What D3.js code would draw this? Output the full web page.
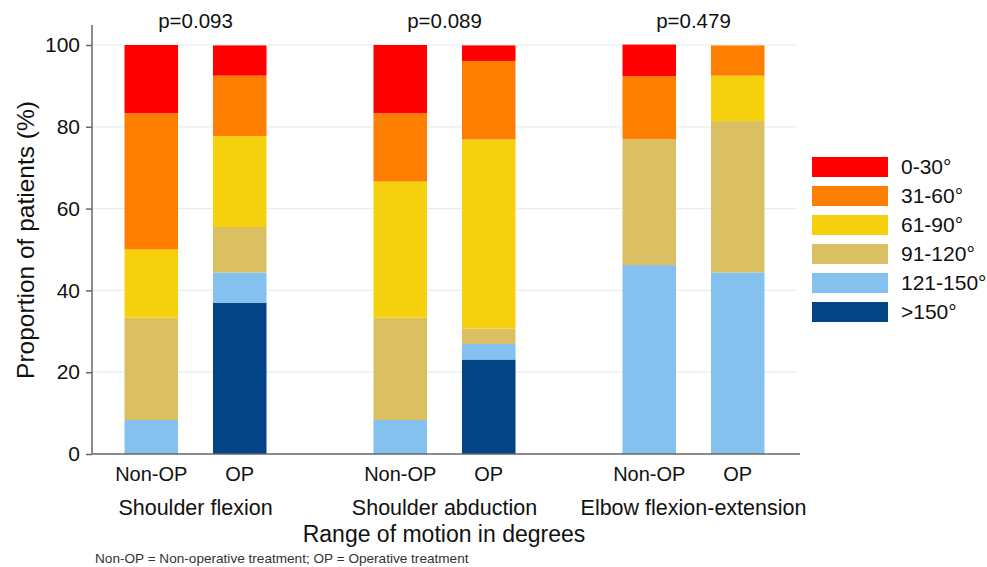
<!DOCTYPE html>
<html>
<head>
<meta charset="utf-8">
<script src="https://cdn.jsdelivr.net/npm/d3@7"></script>
<style>
  html, body { margin: 0; padding: 0; background: #fff; }
  svg { display: block; font-family: "Liberation Sans", Arial, sans-serif; }
</style>
</head>
<body>
<svg id="chart" width="987" height="567"></svg>
<script>
// ---- Data ----
const groups = ["Shoulder flexion", "Shoulder abduction", "Elbow flexion-extension"];
const treatments = ["Non-OP", "OP"];
const pValues = ["p=0.093", "p=0.089", "p=0.479"];
// stack order: bottom to top
const categories = [">150°", "121-150°", "91-120°", "61-90°", "31-60°", "0-30°"];
const colors = ["#024485", "#85C1EE", "#DBC063", "#F6D20E", "#FE7E00", "#FF0000"];

const shoulderFlexionNonOP  = [0, 8.3, 25.0, 16.7, 33.3, 16.7];
const shoulderFlexionOP     = [37.0, 7.4, 11.1, 22.2, 14.8, 7.4];
const shoulderAbductionNonOP = [0, 8.3, 25.0, 33.3, 16.7, 16.7];
const shoulderAbductionOP   = [23.1, 3.8, 3.8, 46.2, 19.2, 3.8];
const elbowNonOP            = [0, 46.2, 30.8, 0, 15.4, 7.7];
const elbowOP               = [0, 44.4, 37.0, 11.1, 7.4, 0];

const yTicks = [0, 20, 40, 60, 80, 100];

// ---- Table built from arrays ----
const seriesByBar = [
  [shoulderFlexionNonOP, shoulderFlexionOP],
  [shoulderAbductionNonOP, shoulderAbductionOP],
  [elbowNonOP, elbowOP]
];
const rows = [];
groups.forEach((g, gi) => {
  treatments.forEach((t, ti) => {
    const row = { group: g, treatment: t };
    categories.forEach((c, ci) => { row[c] = seriesByBar[gi][ti][ci]; });
    rows.push(row);
  });
});

// ---- Layout ----
const svg = d3.select("#chart");
const mLeft = 92, mRight = 797, mTop = 45, mBottom = 454;

const x0 = d3.scalePoint().domain(groups).range([mLeft, mRight]).padding(0.4157);
const x1 = d3.scaleBand().domain(treatments).range([-71, 71]).paddingInner(0.395).paddingOuter(0);
const y = d3.scaleLinear().domain([0, 100]).range([mBottom, mTop]);
const color = d3.scaleOrdinal().domain(categories).range(colors);

// gridlines
svg.append("g").selectAll("line").data(yTicks.filter(d => d > 0)).join("line")
  .attr("x1", mLeft).attr("x2", mRight)
  .attr("y1", d => y(d)).attr("y2", d => y(d))
  .attr("stroke", "#E6EDF4").attr("stroke-width", 1.2);

// stacked bars
const stack = d3.stack().keys(categories);
const stacked = stack(rows);
svg.append("g").selectAll("g").data(stacked).join("g")
  .attr("fill", d => color(d.key))
  .selectAll("rect").data(d => d).join("rect")
  .attr("x", d => x0(d.data.group) + x1(d.data.treatment))
  .attr("width", x1.bandwidth())
  .attr("y", d => y(d[1]))
  .attr("height", d => Math.max(0, y(d[0]) - y(d[1])));

// y axis
const yAxis = d3.axisLeft(y).tickValues(yTicks).tickSize(6).tickPadding(6);
const gy = svg.append("g").attr("transform", `translate(${mLeft},0)`).call(yAxis);
gy.select(".domain").remove();
gy.selectAll(".tick line").attr("stroke", "#666").attr("stroke-width", 1.5);
gy.selectAll(".tick text").attr("font-size", 21).attr("fill", "#111")
  .attr("font-family", "Liberation Sans, Arial, sans-serif");
svg.append("line").attr("x1", mLeft).attr("x2", mLeft).attr("y1", 25).attr("y2", mBottom)
  .attr("stroke", "#666").attr("stroke-width", 1.5);
// x axis line
svg.append("line").attr("x1", mLeft).attr("x2", mRight + 3).attr("y1", mBottom).attr("y2", mBottom)
  .attr("stroke", "#666").attr("stroke-width", 1.5);

// treatment labels
const tl = [];
groups.forEach(g => treatments.forEach(t => tl.push({ g, t })));
svg.append("g").selectAll("text").data(tl).join("text")
  .attr("x", d => x0(d.g) + x1(d.t) + x1.bandwidth() / 2)
  .attr("y", 481).attr("text-anchor", "middle")
  .attr("font-size", 20).attr("fill", "#111").text(d => d.t);

// group labels
svg.append("g").selectAll("text").data(groups).join("text")
  .attr("x", d => x0(d)).attr("y", 515).attr("text-anchor", "middle")
  .attr("font-size", 21.5).attr("fill", "#111").text(d => d);

// p values
svg.append("g").selectAll("text").data(groups).join("text")
  .attr("x", d => x0(d)).attr("y", 28).attr("text-anchor", "middle")
  .attr("font-size", 20.5).attr("fill", "#111").text((d, i) => pValues[i]);

// axis titles
svg.append("text").attr("x", 444).attr("y", 542).attr("text-anchor", "middle")
  .attr("font-size", 23).attr("fill", "#111").text("Range of motion in degrees");
svg.append("text").attr("transform", "translate(34,240) rotate(-90)")
  .attr("text-anchor", "middle").attr("font-size", 24.5).attr("fill", "#111")
  .text("Proportion of patients (%)");

// footnote
svg.append("text").attr("x", 95).attr("y", 563)
  .attr("font-size", 13.6).attr("fill", "#333")
  .text("Non-OP = Non-operative treatment; OP = Operative treatment");

// legend
const legendItems = categories.slice().reverse();
const lg = svg.append("g").selectAll("g").data(legendItems).join("g")
  .attr("transform", (d, i) => `translate(812,${157 + i * 29})`);
lg.append("rect").attr("width", 76).attr("height", 20).attr("fill", d => color(d));
lg.append("text").attr("x", 89).attr("y", 17).attr("font-size", 21).attr("fill", "#111").text(d => d);
</script>
</body>
</html>
